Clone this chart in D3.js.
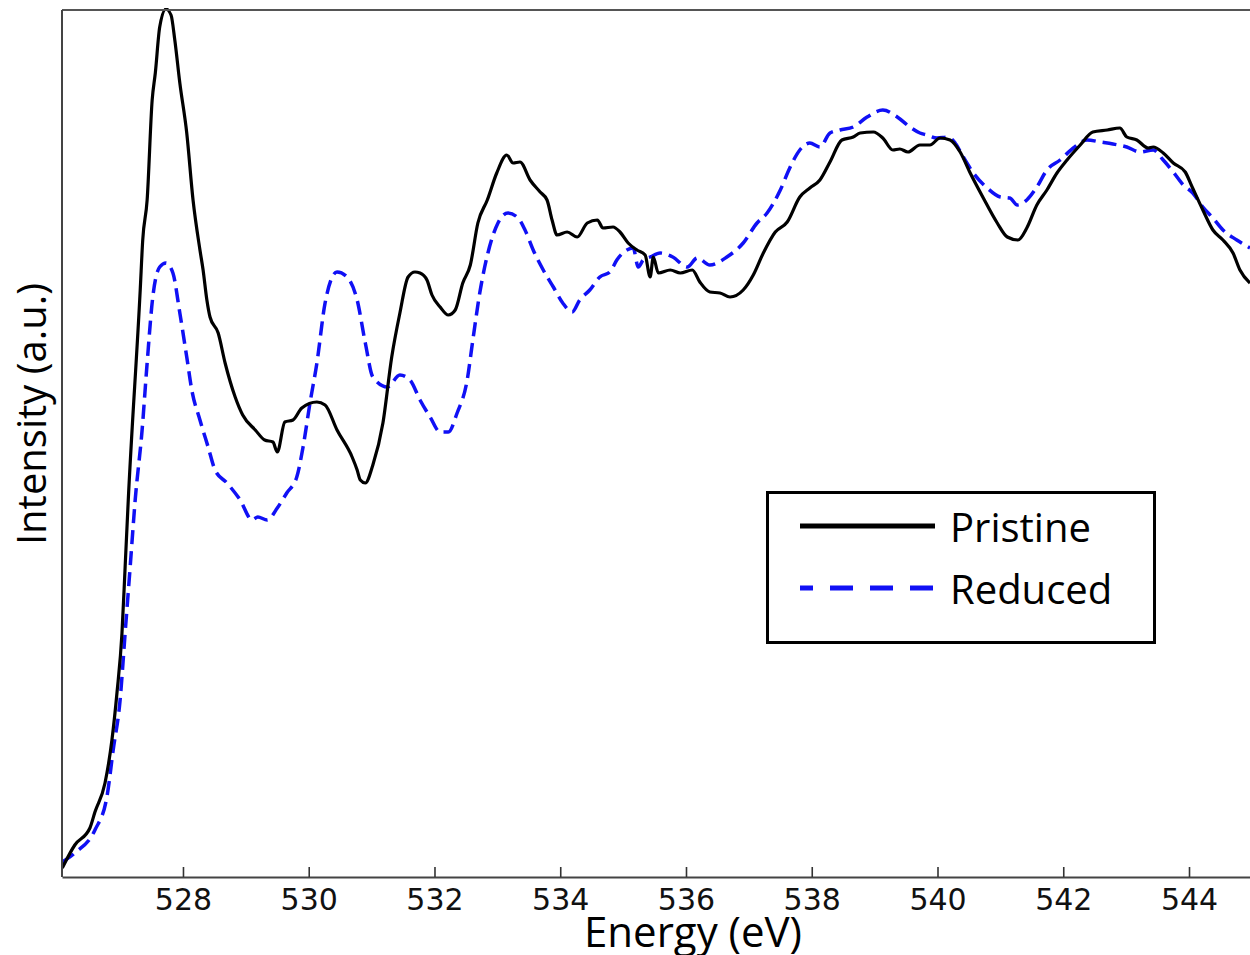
<!DOCTYPE html>
<html>
<head>
<meta charset="utf-8">
<script src="https://cdn.jsdelivr.net/npm/d3@7"></script>
<style>
  html, body { margin: 0; padding: 0; background: #fff; overflow: hidden; }
  svg { display: block; }
</style>
</head>
<body>
<script>
// O K-edge spectra
const energyPristine = [
  526.08, 526.28, 526.52, 526.60, 526.76, 526.87, 526.95, 527.03, 527.08, 527.13,
  527.32, 527.36, 527.43, 527.51, 527.56, 527.63, 527.73, 527.81, 527.87, 527.95,
  528.06, 528.16, 528.27, 528.32, 528.38, 528.43, 528.56, 528.67, 528.83, 528.95,
  529.15, 529.30, 529.43, 529.50, 529.62, 529.75, 529.89, 530.13, 530.26, 530.45,
  530.69, 530.77, 530.82, 530.90, 531.02, 531.18, 531.32, 531.45, 531.58, 531.69,
  531.77, 531.88, 531.96, 532.09, 532.22, 532.33, 532.45, 532.57, 532.69, 532.84,
  532.99, 533.15, 533.25, 533.36, 533.52, 533.68, 533.79, 533.87, 533.95, 534.11,
  534.27, 534.43, 534.59, 534.68, 534.84, 534.95, 535.08, 535.22, 535.35, 535.43,
  535.48, 535.56, 535.75, 535.91, 536.10, 536.22, 536.38, 536.54, 536.70, 536.91,
  537.07, 537.23, 537.42, 537.61, 537.81, 537.97, 538.13, 538.29, 538.48, 538.66,
  538.77, 538.98, 539.13, 539.29, 539.40, 539.53, 539.72, 539.88, 540.04, 540.20,
  540.36, 540.52, 540.72, 540.95, 541.11, 541.28, 541.42, 541.58, 541.74, 541.90,
  542.06, 542.27, 542.47, 542.70, 542.90, 543.01, 543.17, 543.35, 543.43, 543.59,
  543.75, 543.94, 544.05, 544.22, 544.38, 544.54, 544.70, 544.81, 544.97
]
const intensityPristine = [
  0.09, 0.32, 0.49, 0.65, 0.94, 1.37, 1.84, 2.44, 3.10, 3.77,
  5.87, 6.37, 6.77, 7.77, 8.04, 8.50, 8.68, 8.62, 8.37, 7.94,
  7.44, 6.77, 6.27, 6.07, 5.77, 5.60, 5.44, 5.14, 4.80, 4.62,
  4.47, 4.37, 4.35, 4.25, 4.55, 4.57, 4.69, 4.75, 4.72, 4.47,
  4.20, 4.07, 3.97, 3.94, 4.12, 4.54, 5.20, 5.64, 6.00, 6.05,
  6.04, 5.97, 5.82, 5.70, 5.62, 5.67, 5.94, 6.12, 6.54, 6.77,
  7.04, 7.22, 7.14, 7.15, 6.97, 6.85, 6.77, 6.57, 6.42, 6.45,
  6.40, 6.54, 6.57, 6.49, 6.50, 6.45, 6.34, 6.27, 6.22, 6.00,
  6.20, 6.04, 6.07, 6.04, 6.07, 5.95, 5.85, 5.84, 5.80, 5.87,
  6.02, 6.24, 6.45, 6.55, 6.80, 6.89, 6.97, 7.15, 7.37, 7.40,
  7.44, 7.45, 7.39, 7.27, 7.28, 7.25, 7.32, 7.32, 7.39, 7.37,
  7.25, 7.04, 6.80, 6.54, 6.40, 6.37, 6.49, 6.72, 6.87, 7.04,
  7.17, 7.32, 7.45, 7.47, 7.49, 7.40, 7.37, 7.29, 7.30, 7.24,
  7.14, 7.05, 6.90, 6.67, 6.47, 6.37, 6.24, 6.07, 5.94
]

const energyReduced = [
  526.08, 526.28, 526.60, 526.79, 526.89, 527.00, 527.08, 527.16, 527.24, 527.35,
  527.43, 527.52, 527.63, 527.73, 527.84, 527.95, 528.06, 528.14, 528.27, 528.40,
  528.51, 528.70, 528.91, 529.10, 529.19, 529.34, 529.50, 529.65, 529.81, 529.91,
  530.02, 530.13, 530.26, 530.45, 530.61, 530.77, 530.90, 531.02, 531.25, 531.45,
  531.61, 531.77, 531.93, 532.09, 532.22, 532.36, 532.52, 532.61, 532.72, 532.85,
  533.01, 533.17, 533.33, 533.44, 533.57, 533.73, 533.89, 534.04, 534.19, 534.31,
  534.47, 534.63, 534.79, 534.90, 535.06, 535.16, 535.24, 535.32, 535.43, 535.59,
  535.79, 536.02, 536.18, 536.38, 536.65, 536.91, 537.13, 537.29, 537.50, 537.65,
  537.81, 537.97, 538.13, 538.29, 538.45, 538.66, 538.88, 539.13, 539.36, 539.56,
  539.72, 539.83, 539.99, 540.17, 540.28, 540.41, 540.57, 540.79, 541.00, 541.15,
  541.27, 541.42, 541.58, 541.74, 541.95, 542.16, 542.38, 542.59, 542.79, 543.01,
  543.22, 543.43, 543.59, 543.75, 543.91, 544.06, 544.22, 544.38, 544.54, 544.76,
  544.97
]
const intensityReduced = [
  0.15, 0.24, 0.47, 0.80, 1.27, 1.77, 2.44, 3.10, 3.77, 4.47,
  5.14, 5.80, 6.10, 6.14, 6.04, 5.64, 5.20, 4.87, 4.57, 4.30,
  4.07, 3.94, 3.77, 3.57, 3.60, 3.57, 3.69, 3.84, 4.00, 4.30,
  4.74, 5.14, 5.74, 6.05, 6.00, 5.77, 5.34, 5.00, 4.90, 5.02,
  4.97, 4.77, 4.60, 4.45, 4.45, 4.64, 4.97, 5.37, 5.84, 6.24,
  6.54, 6.64, 6.59, 6.47, 6.27, 6.07, 5.90, 5.74, 5.65, 5.77,
  5.87, 6.00, 6.05, 6.17, 6.27, 6.29, 6.10, 6.17, 6.20, 6.24,
  6.20, 6.10, 6.19, 6.12, 6.20, 6.34, 6.54, 6.64, 6.87, 7.09,
  7.27, 7.34, 7.30, 7.44, 7.47, 7.50, 7.60, 7.67, 7.60, 7.50,
  7.44, 7.42, 7.39, 7.40, 7.34, 7.20, 7.04, 6.89, 6.80, 6.79,
  6.72, 6.77, 6.90, 7.07, 7.17, 7.29, 7.37, 7.35, 7.33, 7.30,
  7.25, 7.27, 7.17, 7.05, 6.92, 6.84, 6.70, 6.59, 6.47, 6.37,
  6.29
]

const xTicks = [528, 530, 532, 534, 536, 538, 540, 542, 544]
const seriesNames = ['Pristine', 'Reduced']

const width = 1250
const height = 955
const margin = {top: 10, right: 0, bottom: 78, left: 62}

const x = d3.scaleLinear()
    .domain([526.076, 544.97])
    .range([margin.left, width - margin.right])

const y = d3.scaleLinear()
    .domain([0, 8.67])
    .range([height - margin.bottom, margin.top])

const svg = d3.select('body')
    .append('svg')
    .attr('width', width)
    .attr('height', height)

svg.append('defs').append('clipPath')
    .attr('id', 'plot-clip')
    .append('rect')
    .attr('x', margin.left)
    .attr('y', margin.top - 2)
    .attr('width', width - margin.left)
    .attr('height', height - margin.bottom - margin.top + 2)

const toPoints = (xs, ys) => xs.map((e, i) => [e, ys[i]])

const line = d3.line()
    .x(d => x(d[0]))
    .y(d => y(d[1]))
    .curve(d3.curveMonotoneX)

const plot = svg.append('g').attr('clip-path', 'url(#plot-clip)')

plot.append('path')
    .datum(toPoints(energyReduced, intensityReduced))
    .attr('fill', 'none')
    .attr('stroke', '#1010f5')
    .attr('stroke-width', 3.5)
    .attr('stroke-dasharray', '14,7')
    .attr('d', line)

plot.append('path')
    .datum(toPoints(energyPristine, intensityPristine))
    .attr('fill', 'none')
    .attr('stroke', '#000')
    .attr('stroke-width', 3.2)
    .attr('stroke-linejoin', 'round')
    .attr('d', line)

// frame: top border, left and bottom axes
svg.append('line')
    .attr('x1', margin.left).attr('x2', width)
    .attr('y1', margin.top).attr('y2', margin.top)
    .attr('stroke', '#555').attr('stroke-width', 2)

svg.append('line')
    .attr('x1', margin.left).attr('x2', margin.left)
    .attr('y1', margin.top).attr('y2', height - margin.bottom)
    .attr('stroke', '#444').attr('stroke-width', 2)

const xAxis = svg.append('g')
    .attr('transform', `translate(0,${height - margin.bottom})`)
    .call(d3.axisBottom(x).tickValues(xTicks).tickSize(-10).tickPadding(12).tickSizeOuter(0))

xAxis.select('.domain').attr('stroke', '#444').attr('stroke-width', 2)
xAxis.selectAll('.tick line').attr('stroke', '#333').attr('stroke-width', 1.6)
xAxis.selectAll('.tick text')
    .attr('fill', '#111')
    .style('font-family', '"DejaVu Sans", sans-serif')
    .style('font-size', '30px')

svg.append('text')
    .attr('x', 693)
    .attr('y', 947)
    .attr('text-anchor', 'middle')
    .style('font-family', '"Open Sans", sans-serif')
    .style('font-size', '42px')
    .attr('fill', '#000')
    .text('Energy (eV)')

svg.append('text')
    .attr('transform', 'translate(46,414) rotate(-90)')
    .attr('text-anchor', 'middle')
    .style('font-family', '"Open Sans", sans-serif')
    .style('font-size', '40px')
    .attr('fill', '#000')
    .text('Intensity (a.u.)')

// legend
const legend = svg.append('g')

legend.append('rect')
    .attr('x', 767.5).attr('y', 492.5)
    .attr('width', 387).attr('height', 150)
    .attr('fill', '#fff')
    .attr('stroke', '#000')
    .attr('stroke-width', 3)

const legendStyles = [
    {stroke: '#000', dash: null, offset: 0},
    {stroke: '#1010f5', dash: '23,17', offset: 10}
]

seriesNames.forEach((name, i) => {
    const ly = 526 + i * 62
    legend.append('line')
        .attr('x1', 800).attr('x2', 935)
        .attr('y1', ly).attr('y2', ly)
        .attr('stroke', legendStyles[i].stroke)
        .attr('stroke-width', 5)
        .attr('stroke-dasharray', legendStyles[i].dash)
        .attr('stroke-dashoffset', legendStyles[i].offset)
    legend.append('text')
        .attr('x', 950)
        .attr('y', ly + 16)
        .style('font-family', '"Open Sans", sans-serif')
        .style('font-size', '40px')
        .attr('fill', '#000')
        .text(name)
})
</script>
</body>
</html>
